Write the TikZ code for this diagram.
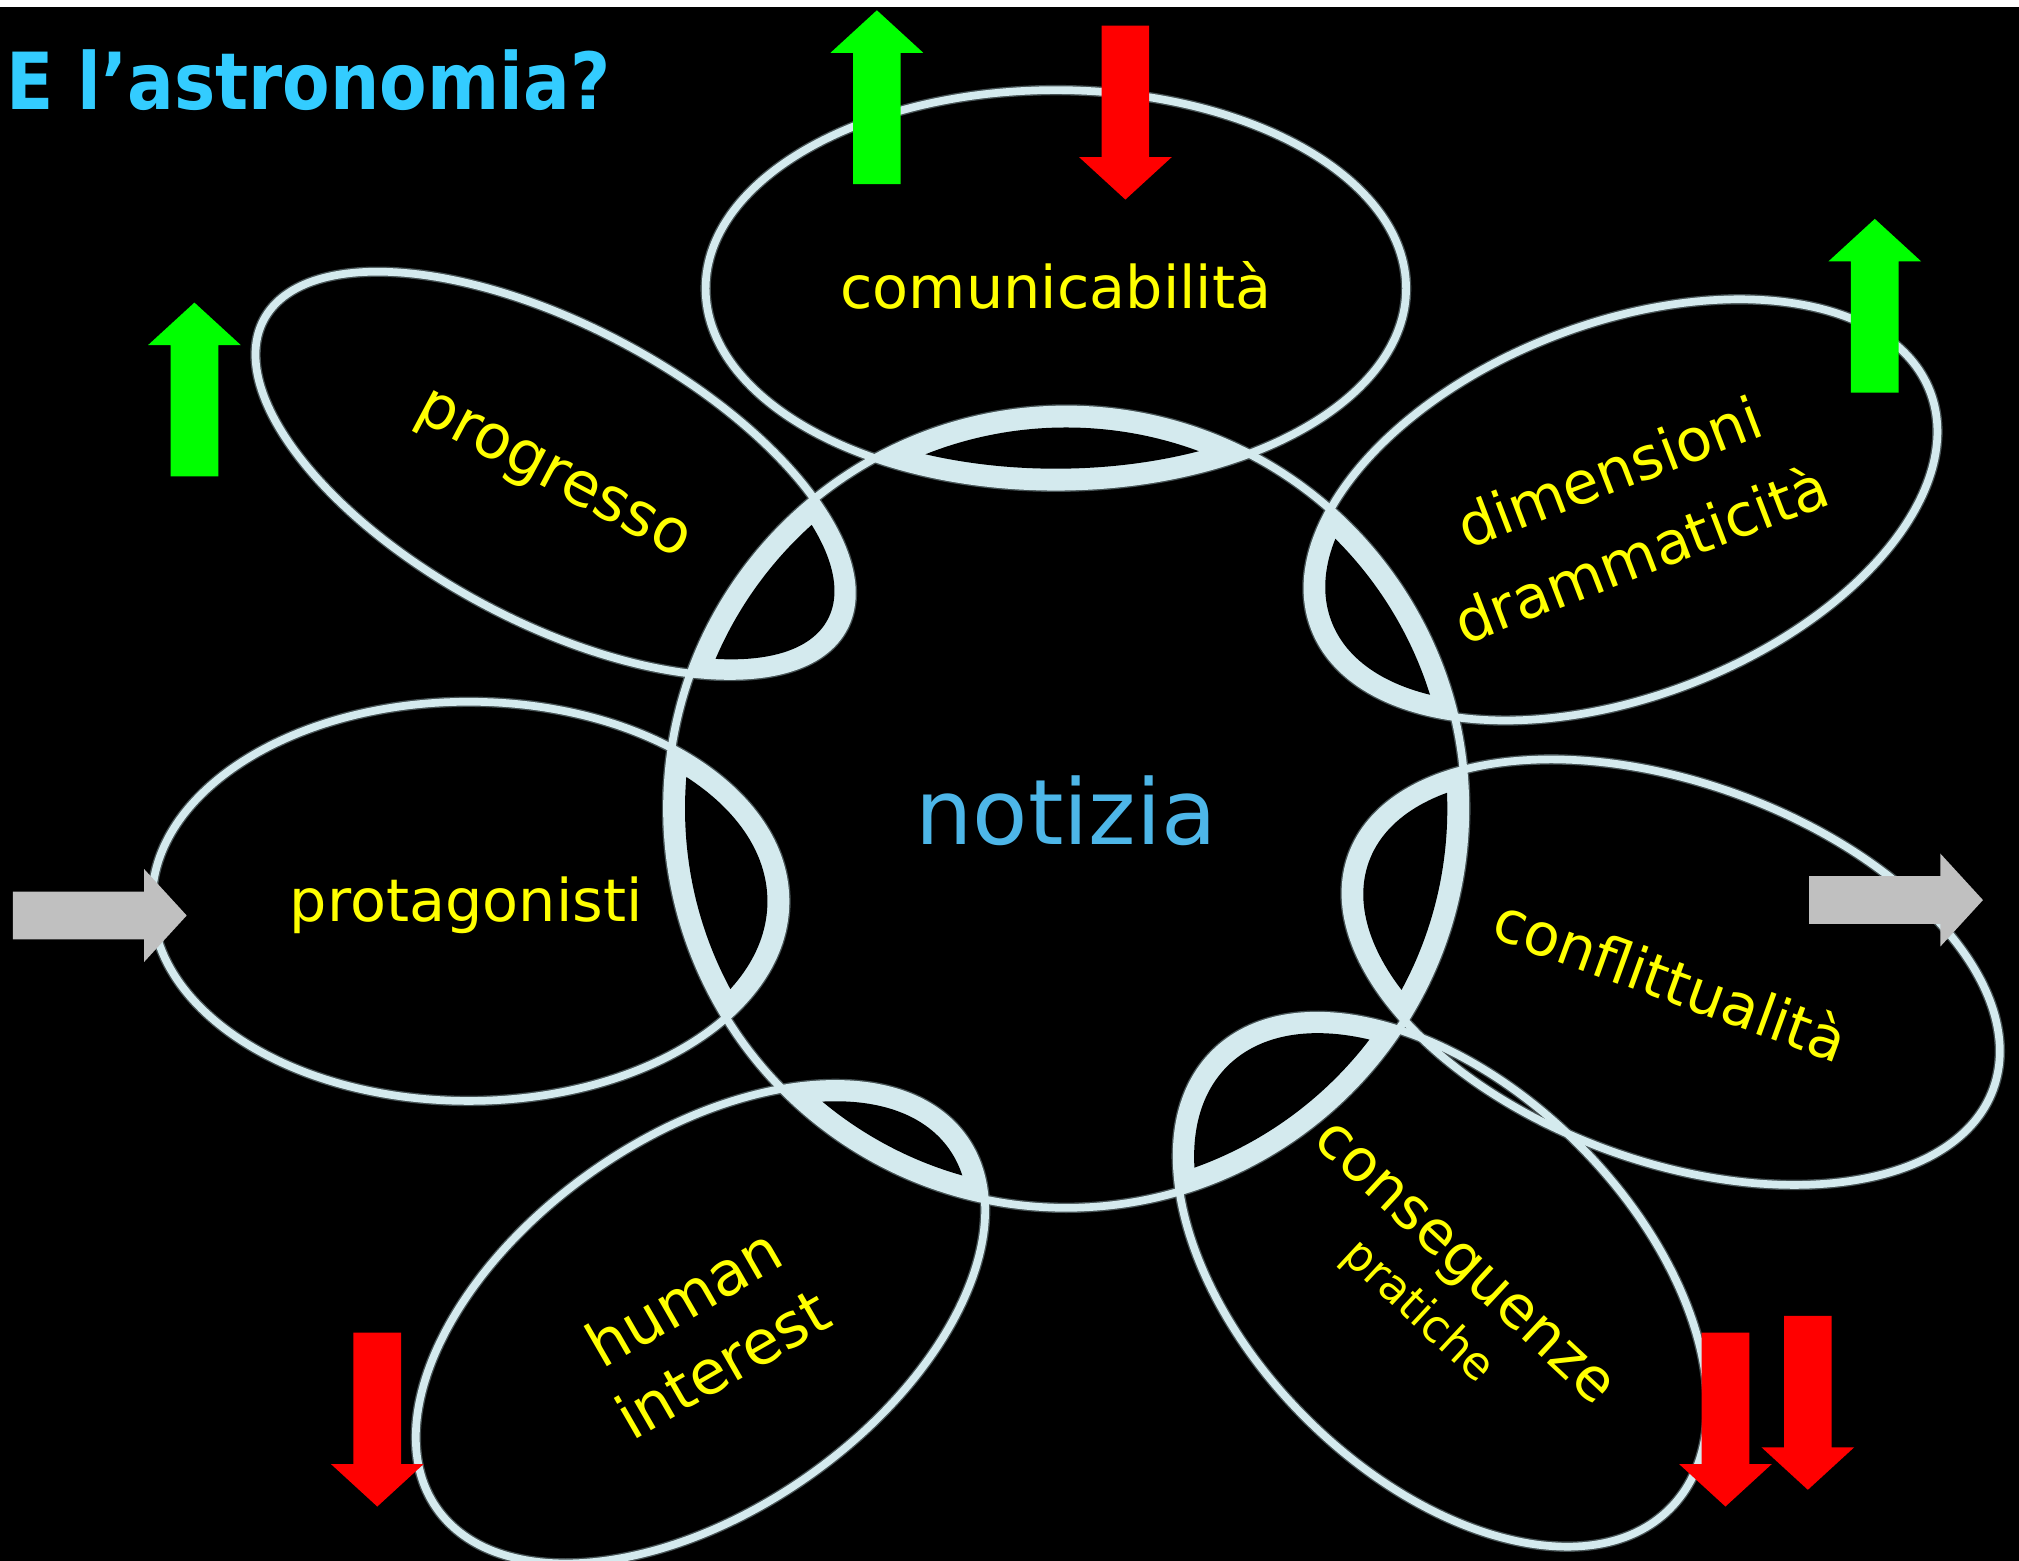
\documentclass[tikz,border=0pt]{standalone}
\usepackage{fontspec}
\setmainfont{DejaVu Sans}
\newfontfamily\titlefont[FakeStretch=0.88]{DejaVu Sans}
\usepackage{tikz}

\definecolor{ringcol}{RGB}{212,234,238}
\definecolor{ringedge}{RGB}{70,82,84}
\definecolor{labelcol}{RGB}{255,255,0}
\definecolor{titlecol}{RGB}{51,204,255}
\definecolor{newscol}{RGB}{77,182,232}
\definecolor{upcol}{RGB}{0,255,0}
\definecolor{downcol}{RGB}{255,0,0}
\definecolor{sidecol}{RGB}{192,192,192}

\tikzset{
  ringline/.style={draw=ringcol, line width=1.7pt},
  ringshadow/.style={draw=ringedge, line width=2.3pt},
  factor/.style={text=labelcol, font=\fontsize{13}{19.5}\selectfont, align=center, inner sep=0pt},
  blockarrow/.pic={
    \fill (-0.185,0) -- (-0.185,1.02) -- (-0.36,1.02) -- (0,1.35)
      -- (0.36,1.02) -- (0.185,1.02) -- (0.185,0) -- cycle;
  }
}

% centre x / centre y / x radius / y radius / rotation
\def\bubbles{8.20/9.88/2.72/1.54/0, 4.30/8.44/2.55/1.15/-28, 12.60/8.16/2.56/1.45/21,
  3.64/5.12/2.46/1.55/0, 12.99/4.57/2.65/1.47/-20, 11.20/2.17/2.50/1.50/-45,
  5.44/1.84/2.50/1.45/35}

\begin{document}
\begin{tikzpicture}

    \useasboundingbox (0,0) rectangle (15.68,12.12);
    \fill[black] (0,0) rectangle (15.68,12.065);

    % Dark rims under all the rings
    \draw[ringshadow] (8.28,5.84) circle (3.10);
    \foreach \cx/\cy/\ra/\rb/\rot in \bubbles {
        \draw[ringshadow, rotate around={\rot:(\cx,\cy)}] (\cx,\cy) ellipse ({\ra} and {\rb});
    }

    % Overlaps of the bubbles with the central circle
    \foreach \cx/\cy/\ra/\rb/\rot in \bubbles {
        \pgfmathsetmacro{\rai}{\ra-0.14}
        \pgfmathsetmacro{\rbi}{\rb-0.14}
        \begin{scope}
            \clip (8.28,5.84) circle (3.10);
            \fill[ringcol, rotate around={\rot:(\cx,\cy)}] (\cx,\cy) ellipse ({\ra} and {\rb});
        \end{scope}
        \begin{scope}
            \clip (8.28,5.84) circle (2.96);
            \fill[black, rotate around={\rot:(\cx,\cy)}] (\cx,\cy) ellipse ({\rai} and {\rbi});
        \end{scope}
    }

    % Central circle and the bubbles round it
    \draw[ringline] (8.28,5.84) circle (3.10);
    \foreach \cx/\cy/\ra/\rb/\rot in \bubbles {
        \draw[ringline, rotate around={\rot:(\cx,\cy)}] (\cx,\cy) ellipse ({\ra} and {\rb});
    }

    % Title and centre
    \node[anchor=base west, inner sep=0pt, text=titlecol, font=\titlefont\bfseries\fontsize{17.4}{20}\selectfont]
        (title) at (0.04,11.27) {E l’astronomia?};
    \node[text=newscol, font=\fontsize{20}{24}\selectfont, inner sep=0pt] (news) at (8.28,5.82) {notizia};

    % Labels of the bubbles
    \node[factor] (comm) at (8.20,9.90) {comunicabilità};
    \node[factor, rotate=-28, font=\fontsize{13.5}{19.5}\selectfont] (prog) at (4.28,8.40) {progresso};
    \node[factor, rotate=21] (dims) at (12.62,8.14) {dimensioni\\drammaticità};
    \node[factor] (prot) at (3.62,5.09) {protagonisti};
    \node[factor, rotate=-20] (confl) at (12.98,4.52) {conflittualità};
    \node[factor, rotate=-43] (conseq) at (11.34,2.28) {conseguenze};
    \node[factor, rotate=-43, font=\fontsize{10}{12}\selectfont] (pract) at (11.01,1.93) {pratiche};
    \node[factor, rotate=30, font=\fontsize{13.5}{17}\selectfont] (human) at (5.46,1.79) {human\\interest};

    % Trend arrows
    \pic[upcol] at (1.51,8.42) {blockarrow};
    \pic[upcol] at (6.81,10.69) {blockarrow};
    \pic[upcol] at (14.56,9.07) {blockarrow};
    \pic[downcol, rotate=180] at (8.74,11.92) {blockarrow};
    \pic[downcol, rotate=180] at (2.93,1.77) {blockarrow};
    \pic[downcol, rotate=180] at (13.40,1.77) {blockarrow};
    \pic[downcol, rotate=180] at (14.04,1.90) {blockarrow};
    \pic[sidecol, rotate=-90] at (0.10,5.01) {blockarrow};
    \pic[sidecol, rotate=-90] at (14.05,5.13) {blockarrow};

\end{tikzpicture}
\end{document}
